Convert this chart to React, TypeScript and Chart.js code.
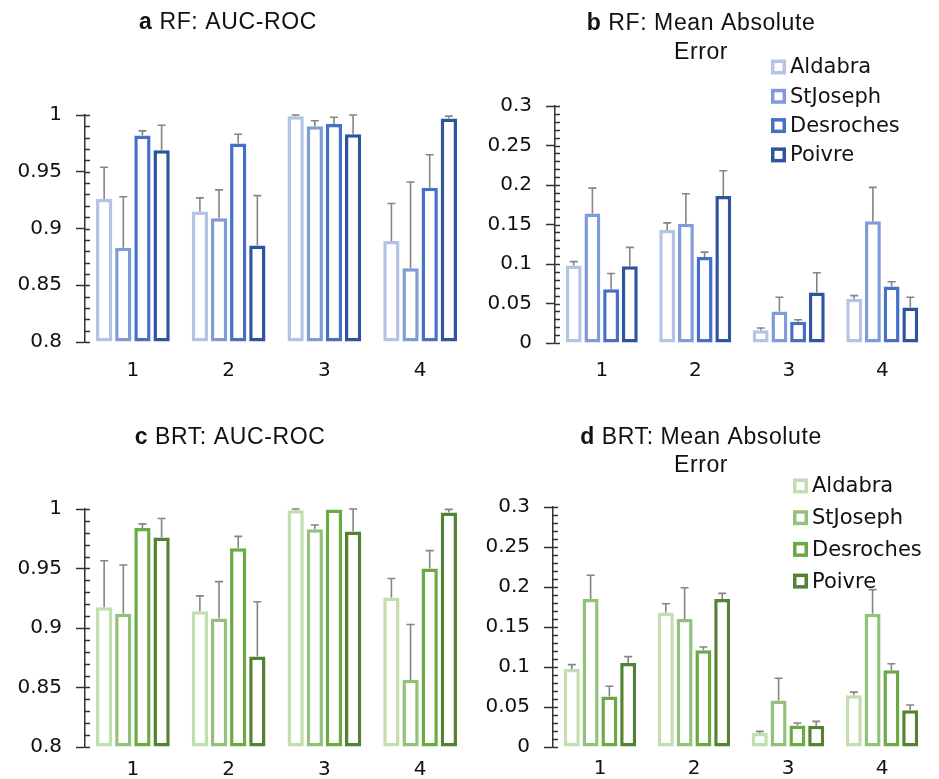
import React, { useEffect, useRef } from "react";
import { Chart, registerables } from "chart.js";

Chart.register(...registerables);

// ---------- data ----------
const categories = ["1", "2", "3", "4"];
const sites = ["Aldabra", "StJoseph", "Desroches", "Poivre"];

// RF: AUC-ROC
const rfAucAldabra = [0.926, 0.915, 0.999, 0.889];
const rfAucStJoseph = [0.883, 0.909, 0.99, 0.865];
const rfAucDesroches = [0.982, 0.975, 0.992, 0.936];
const rfAucPoivre = [0.969, 0.885, 0.983, 0.997];
const rfAucErrAldabra = [0.028, 0.012, 0.001, 0.033];
const rfAucErrStJoseph = [0.045, 0.025, 0.005, 0.076];
const rfAucErrDesroches = [0.004, 0.008, 0.006, 0.029];
const rfAucErrPoivre = [0.022, 0.044, 0.017, 0.002];

// RF: Mean Absolute Error
const rfMaeAldabra = [0.098, 0.143, 0.016, 0.056];
const rfMaeStJoseph = [0.164, 0.151, 0.04, 0.154];
const rfMaeDesroches = [0.068, 0.109, 0.027, 0.0715];
const rfMaePoivre = [0.097, 0.186, 0.064, 0.045];
const rfMaeErrAldabra = [0.005, 0.009, 0.003, 0.004];
const rfMaeErrStJoseph = [0.032, 0.038, 0.018, 0.043];
const rfMaeErrDesroches = [0.02, 0.006, 0.0025, 0.006];
const rfMaeErrPoivre = [0.024, 0.032, 0.025, 0.013];

// BRT: AUC-ROC
const brtAucAldabra = [0.9175, 0.914, 0.999, 0.9256];
const brtAucStJoseph = [0.912, 0.908, 0.983, 0.8565];
const brtAucDesroches = [0.984, 0.967, 0.9995, 0.95];
const brtAucPoivre = [0.976, 0.876, 0.981, 0.997];
const brtAucErrAldabra = [0.039, 0.013, 0.001, 0.016];
const brtAucErrStJoseph = [0.041, 0.031, 0.0036, 0.0465];
const brtAucErrDesroches = [0.0035, 0.01, 0, 0.015];
const brtAucErrPoivre = [0.016, 0.046, 0.019, 0.0027];

// BRT: Mean Absolute Error
const brtMaeAldabra = [0.0975, 0.168, 0.0175, 0.0646];
const brtMaeStJoseph = [0.185, 0.16, 0.058, 0.1667];
const brtMaeDesroches = [0.063, 0.121, 0.027, 0.096];
const brtMaePoivre = [0.105, 0.185, 0.0267, 0.046];
const brtMaeErrAldabra = [0.0055, 0.011, 0.002, 0.004];
const brtMaeErrStJoseph = [0.0296, 0.039, 0.028, 0.03];
const brtMaeErrDesroches = [0.013, 0.004, 0.003, 0.008];
const brtMaeErrPoivre = [0.008, 0.007, 0.0053, 0.0065];

const aucTicks = { min: 0.8, max: 1, step: 0.05, minor: 0.01 };
const maeTicks = { min: 0, max: 0.3, step: 0.05, minor: 0.01 };

const blueColors = ["#b4c3e6", "#7f9bd8", "#4570c6", "#2f549f"];
const greenColors = ["#c2deb1", "#92c17a", "#6aa944", "#548235"];

const TICK_FONT = "'DejaVu Sans', sans-serif";
const TITLE_FONT = "'Liberation Sans', Arial, sans-serif";

type PanelSpec = {
  left: number;
  top: number;
  width: number;
  height: number;
  letter: string;
  titleLines: string[];
  titleBaselines: number[];
  titleCenter: number;
  ticks: { min: number; max: number; step: number; minor: number };
  values: number[][];
  errors: number[][];
  colors: string[];
  padTop: number;
  padRight: number;
  yWidth: number;
  xHeight: number;
  xPad: number;
  legend?: { x: number; y: number; gap: number };
};

const panels: PanelSpec[] = [
  {
    left: 0, top: 0, width: 470, height: 390,
    letter: "a", titleLines: ["RF: AUC-ROC"], titleBaselines: [29], titleCenter: 228,
    ticks: aucTicks,
    values: [rfAucAldabra, rfAucStJoseph, rfAucDesroches, rfAucPoivre],
    errors: [rfAucErrAldabra, rfAucErrStJoseph, rfAucErrDesroches, rfAucErrPoivre],
    colors: blueColors,
    padTop: 115, padRight: 2, yWidth: 85, xHeight: 48, xPad: 17,
  },
  {
    left: 470, top: 0, width: 469, height: 390,
    letter: "b", titleLines: ["RF: Mean Absolute", "Error"], titleBaselines: [30, 59], titleCenter: 231,
    ticks: maeTicks,
    values: [rfMaeAldabra, rfMaeStJoseph, rfMaeDesroches, rfMaePoivre],
    errors: [rfMaeErrAldabra, rfMaeErrStJoseph, rfMaeErrDesroches, rfMaeErrPoivre],
    colors: blueColors,
    padTop: 106, padRight: 10, yWidth: 85, xHeight: 47, xPad: 16,
    legend: { x: 301, y: 67, gap: 29.3 },
  },
  {
    left: 0, top: 390, width: 470, height: 389,
    letter: "c", titleLines: ["BRT: AUC-ROC"], titleBaselines: [54], titleCenter: 230,
    ticks: aucTicks,
    values: [brtAucAldabra, brtAucStJoseph, brtAucDesroches, brtAucPoivre],
    errors: [brtAucErrAldabra, brtAucErrStJoseph, brtAucErrDesroches, brtAucErrPoivre],
    colors: greenColors,
    padTop: 119, padRight: 2, yWidth: 85, xHeight: 32, xPad: 11,
  },
  {
    left: 470, top: 390, width: 469, height: 389,
    letter: "d", titleLines: ["BRT: Mean Absolute", "Error"], titleBaselines: [54, 82], titleCenter: 231,
    ticks: maeTicks,
    values: [brtMaeAldabra, brtMaeStJoseph, brtMaeDesroches, brtMaePoivre],
    errors: [brtMaeErrAldabra, brtMaeErrStJoseph, brtMaeErrDesroches, brtMaeErrPoivre],
    colors: greenColors,
    padTop: 117, padRight: 10, yWidth: 83, xHeight: 32, xPad: 10,
    legend: { x: 323, y: 96, gap: 31.7 },
  },
];

function fmt(v: number): string {
  return String(parseFloat(Number(v).toFixed(2)));
}

function Panel({ spec }: { spec: PanelSpec }) {
  const ref = useRef<HTMLCanvasElement | null>(null);

  useEffect(() => {
    const canvas = ref.current;
    if (!canvas) return;

    const titlePlugin = {
      id: "panelTitle",
      afterDraw(chart: any) {
        const ctx = chart.ctx;
        ctx.save();
        ctx.fillStyle = "#111";
        ctx.textBaseline = "alphabetic";
        ctx.textAlign = "left";
        try { (ctx as any).letterSpacing = "0.6px"; } catch (e) {}
        spec.titleLines.forEach((line, i) => {
          const yb = spec.titleBaselines[i];
          if (i === 0) {
            ctx.font = `bold 23px ${TITLE_FONT}`;
            const lw = ctx.measureText(spec.letter).width;
            ctx.font = `23px ${TITLE_FONT}`;
            const sw = ctx.measureText(" ").width;
            const rw = ctx.measureText(line).width;
            const x0 = spec.titleCenter - (lw + sw + rw) / 2;
            ctx.font = `bold 23px ${TITLE_FONT}`;
            ctx.fillText(spec.letter, x0, yb);
            ctx.font = `23px ${TITLE_FONT}`;
            ctx.fillText(line, x0 + lw + sw, yb);
          } else {
            ctx.font = `23px ${TITLE_FONT}`;
            ctx.textAlign = "center";
            ctx.fillText(line, spec.titleCenter, yb);
            ctx.textAlign = "left";
          }
        });
        ctx.restore();
      },
    };

    const errorBarPlugin = {
      id: "errorBars",
      afterDatasetsDraw(chart: any) {
        const ctx = chart.ctx;
        const yScale = chart.scales.y;
        const area = chart.chartArea;
        ctx.save();
        ctx.strokeStyle = "#858585";
        ctx.lineWidth = 1.6;
        chart.data.datasets.forEach((ds: any, di: number) => {
          const meta = chart.getDatasetMeta(di);
          meta.data.forEach((bar: any, i: number) => {
            const err = ds.errors[i];
            if (!err) return;
            const v = ds.data[i];
            const yTop = yScale.getPixelForValue(v + err);
            const clipped = yTop < area.top;
            const yEnd = Math.max(yTop, area.top);
            ctx.beginPath();
            ctx.moveTo(bar.x, bar.y);
            ctx.lineTo(bar.x, yEnd);
            if (!clipped) {
              ctx.moveTo(bar.x - 4, yEnd);
              ctx.lineTo(bar.x + 4, yEnd);
            }
            ctx.stroke();
          });
        });
        ctx.restore();
      },
    };

    const minorTickPlugin = {
      id: "minorTicks",
      afterDraw(chart: any) {
        const ctx = chart.ctx;
        const yScale = chart.scales.y;
        const x0 = chart.chartArea.left;
        const n = Math.round((spec.ticks.max - spec.ticks.min) / spec.ticks.minor);
        ctx.save();
        ctx.strokeStyle = "#333";
        ctx.lineWidth = 1.3;
        ctx.beginPath();
        for (let i = 0; i <= n; i++) {
          const v = spec.ticks.min + i * spec.ticks.minor;
          const y = Math.round(yScale.getPixelForValue(v)) + 0.5;
          ctx.moveTo(x0, y);
          ctx.lineTo(x0 + 5, y);
        }
        ctx.stroke();
        ctx.restore();
      },
    };

    const legendPlugin = {
      id: "panelLegend",
      afterDraw(chart: any) {
        if (!spec.legend) return;
        const ctx = chart.ctx;
        const { x, y, gap } = spec.legend;
        ctx.save();
        ctx.font = `21px ${TICK_FONT}`;
        ctx.textBaseline = "middle";
        ctx.textAlign = "left";
        chart.data.datasets.forEach((ds: any, i: number) => {
          const cy = y + i * gap;
          ctx.fillStyle = "#fff";
          ctx.fillRect(x, cy - 7.5, 15, 15);
          ctx.strokeStyle = ds.borderColor;
          ctx.lineWidth = 3.5;
          ctx.strokeRect(x + 1.75, cy - 7.5 + 1.75, 11.5, 11.5);
          ctx.fillStyle = "#111";
          ctx.fillText(ds.label, x + 19, cy + 1);
        });
        ctx.restore();
      },
    };

    const chart = new Chart(canvas, {
      type: "bar",
      data: {
        labels: categories,
        datasets: sites.map((s, i) => ({
          label: s,
          data: spec.values[i],
          errors: spec.errors[i],
          backgroundColor: "#ffffff",
          borderColor: spec.colors[i],
          borderWidth: 3.5,
          borderSkipped: false,
          categoryPercentage: 0.8,
          barPercentage: 0.85,
          base: spec.ticks.min,
        })) as any,
      },
      options: {
        animation: false,
        responsive: false,
        devicePixelRatio: 1,
        layout: {
          padding: { top: spec.padTop, right: spec.padRight, bottom: 0, left: 0 },
        },
        plugins: {
          legend: { display: false },
          tooltip: { enabled: false },
          title: { display: false },
        },
        scales: {
          x: {
            grid: { display: false, drawTicks: false },
            border: { display: false },
            ticks: {
              padding: spec.xPad,
              color: "#111",
              font: { family: TICK_FONT, size: 20 },
            },
            afterFit: (scale: any) => {
              scale.height = spec.xHeight;
            },
          },
          y: {
            min: spec.ticks.min,
            max: spec.ticks.max,
            grid: {
              display: true,
              drawOnChartArea: false,
              drawTicks: true,
              tickLength: 9,
              tickWidth: 1.5,
              tickColor: "#333",
            },
            border: { display: true, color: "#333", width: 1.5 },
            ticks: {
              stepSize: spec.ticks.step,
              padding: 14,
              color: "#111",
              font: { family: TICK_FONT, size: 20 },
              callback: (v: any) => fmt(v),
            },
            afterFit: (scale: any) => {
              scale.width = spec.yWidth;
            },
          },
        },
      } as any,
      plugins: [errorBarPlugin, minorTickPlugin, titlePlugin, legendPlugin],
    });

    return () => {
      chart.destroy();
    };
  }, [spec]);

  return (
    <div
      style={{
        position: "absolute",
        left: spec.left,
        top: spec.top,
        width: spec.width,
        height: spec.height,
      }}
    >
      <canvas
        ref={ref}
        width={spec.width}
        height={spec.height}
        style={{ display: "block", width: spec.width, height: spec.height }}
      />
    </div>
  );
}

export default function App() {
  return (
    <div
      style={{
        position: "absolute",
        left: 0,
        top: 0,
        width: 939,
        height: 779,
        background: "#ffffff",
        overflow: "hidden",
      }}
    >
      {panels.map((p, i) => (
        <Panel key={i} spec={p} />
      ))}
    </div>
  );
}
